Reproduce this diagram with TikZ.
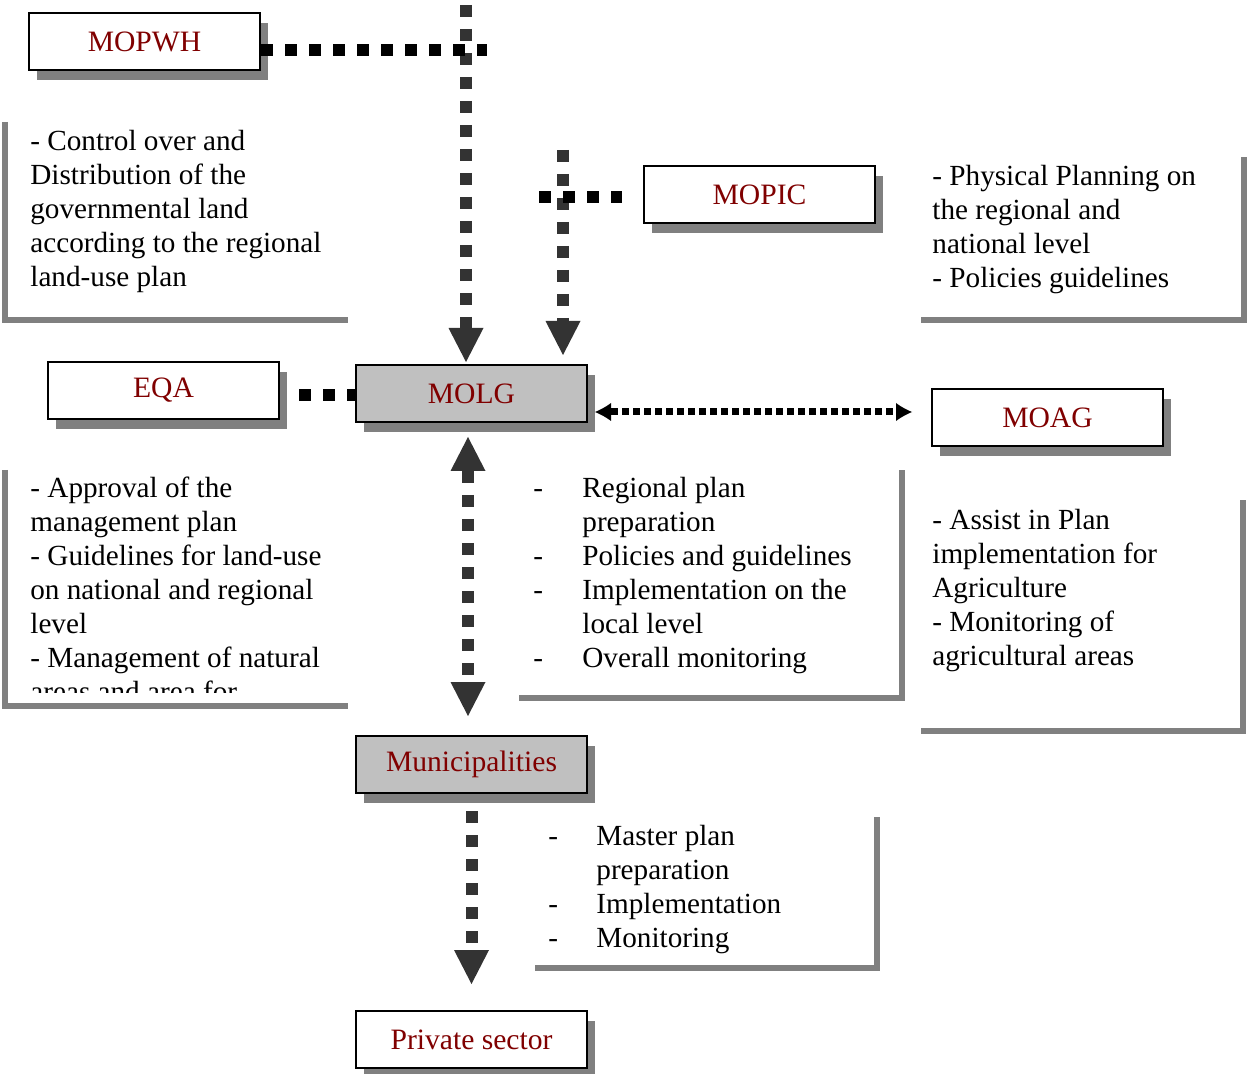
\documentclass[tikz,border=0pt]{standalone}
\usepackage{fontspec}
\setmainfont{Liberation Serif}
\usetikzlibrary{shadows, arrows.meta, positioning}
\definecolor{orgred}{RGB}{128,0,0}
\definecolor{shade}{RGB}{128,128,128}
\definecolor{silver}{RGB}{192,192,192}
\definecolor{dotgray}{RGB}{51,51,51}
\tikzset{
  org/.style={rectangle, draw=black, line width=1pt, fill=white, text=orgred, minimum width=115.5pt, minimum height=28.5pt, inner sep=0pt, font=\fontsize{14.8pt}{17pt}\selectfont, drop shadow={shadow xshift=4pt, shadow yshift=-5pt, fill=shade, opacity=1}},
  org1/.style={org, fill=silver},
  note/.style={anchor=north west, inner sep=0pt, align=left, font=\fontsize{14.6pt}{17pt}\selectfont},
  frame/.style={draw=shade, line width=3pt}
}
\tikzstyle{dots} = [line width=6pt, dash pattern=on 6pt off 6pt]
\tikzstyle{dotsto} = [dots, dotgray, -{Triangle[width=17.5pt,length=17pt,line width=0pt]}]
\tikzstyle{dotsboth} = [dots, dotgray, {Triangle[width=17.5pt,length=17pt,line width=0pt]}-{Triangle[width=17.5pt,length=17pt,line width=0pt]}]
\tikzstyle{fine} = [line width=3.5pt, dash pattern=on 3.5pt off 2pt, black, {Latex[width=9pt,length=8pt,line width=0pt]}-{Latex[width=9pt,length=8pt,line width=0pt]}]

\begin{document}
\begin{tikzpicture}[x=0.5pt, y=-0.5pt]
    \useasboundingbox (0,0) rectangle (1247,1074);

    % notes and their frames
    \node [note] (ctrl) at (30,126) {\strut- Control over and\\Distribution of the\\governmental land\\according to the regional\\land-use plan};
    \draw [frame] (5,122) |- (348,320.5);
    \node [note] (phys) at (932,161) {\strut- Physical Planning on\\the regional and\\national level\\- Policies guidelines};
    \draw [frame] (921,320.5) -| (1243.5,157);
    \begin{scope}
      \clip (0,470) rectangle (360,692);
      \node [note] (eqanote) at (30,473) {\strut- Approval of the\\management plan\\- Guidelines for land-use\\on national and regional\\level\\- Management of natural\\areas and area for};
    \end{scope}
    \draw [frame] (5,470) |- (348,705.5);
    \node [note] (molgnote) at (533,473) {\begin{tabular}{@{}p{24.5pt}@{}l@{}}
      - & Regional plan\\ & preparation\\
      - & Policies and guidelines\\
      - & Implementation on the\\ & local level\\
      - & Overall monitoring
    \end{tabular}};
    \draw [frame] (519,697.5) -| (901.5,470);
    \node [note] (moagnote) at (932,505) {\strut- Assist in Plan\\implementation for\\Agriculture\\- Monitoring of\\agricultural areas};
    \draw [frame] (921,730.5) -| (1243,500);
    \node [note] (muninote) at (548,821) {\begin{tabular}{@{}p{24pt}@{}l@{}}
      - & Master plan\\ & preparation\\
      - & Implementation\\
      - & Monitoring
    \end{tabular}};
    \draw [frame] (535,967.5) -| (876.5,817);

    % organisations
    \node [org] (mopwh) at (144.5,41.5) {MOPWH};
    \node [org] (mopic) at (759.5,195) {MOPIC};
    \node [org] (eqa) at (163.5,390.5) {EQA};
    \node [org1] (molg) at (471.5,393.5) {MOLG};
    \node [org] (moag) at (1047.5,417.5) {MOAG};
    \node [org1, below=156pt of molg] (muni) {Municipalities};
    \node [org, below=108pt of muni] (priv) {Private sector};

    % links
    \coordinate (top1) at (466,0);
    \coordinate (cross1) at (487,50);
    \coordinate (top2) at (563,150);
    \coordinate (left2) at (539,197);
    \draw [dotsto, dash phase=9.5pt, shorten >=1pt] (top1) -- (top1 |- molg.north);
    \draw [dots, black] (mopwh.east |- cross1) -- (cross1);
    \draw [dotsto, shorten >=4.5pt] (top2) -- (top2 |- molg.north);
    \draw [dots, black, shorten >=10.5pt] (left2) -- (left2 -| mopic.west);
    \draw [dots, black, shorten <=9.5pt] ([yshift=-2.25pt]eqa.east) -- ([yshift=-0.75pt]molg.west);
    \draw [fine] ([xshift=3.5pt,yshift=-9.25pt]molg.east) -- ([xshift=-9.5pt,yshift=2.75pt]moag.west);
    \draw [dotsboth, shorten <=7pt, shorten >=9.5pt] ([xshift=-1.75pt]molg.south) -- ([xshift=-1.75pt]muni.north);
    \draw [dotsto, shorten <=8.5pt, shorten >=13pt] (muni.south) -- (priv.north);
\end{tikzpicture}
\end{document}
